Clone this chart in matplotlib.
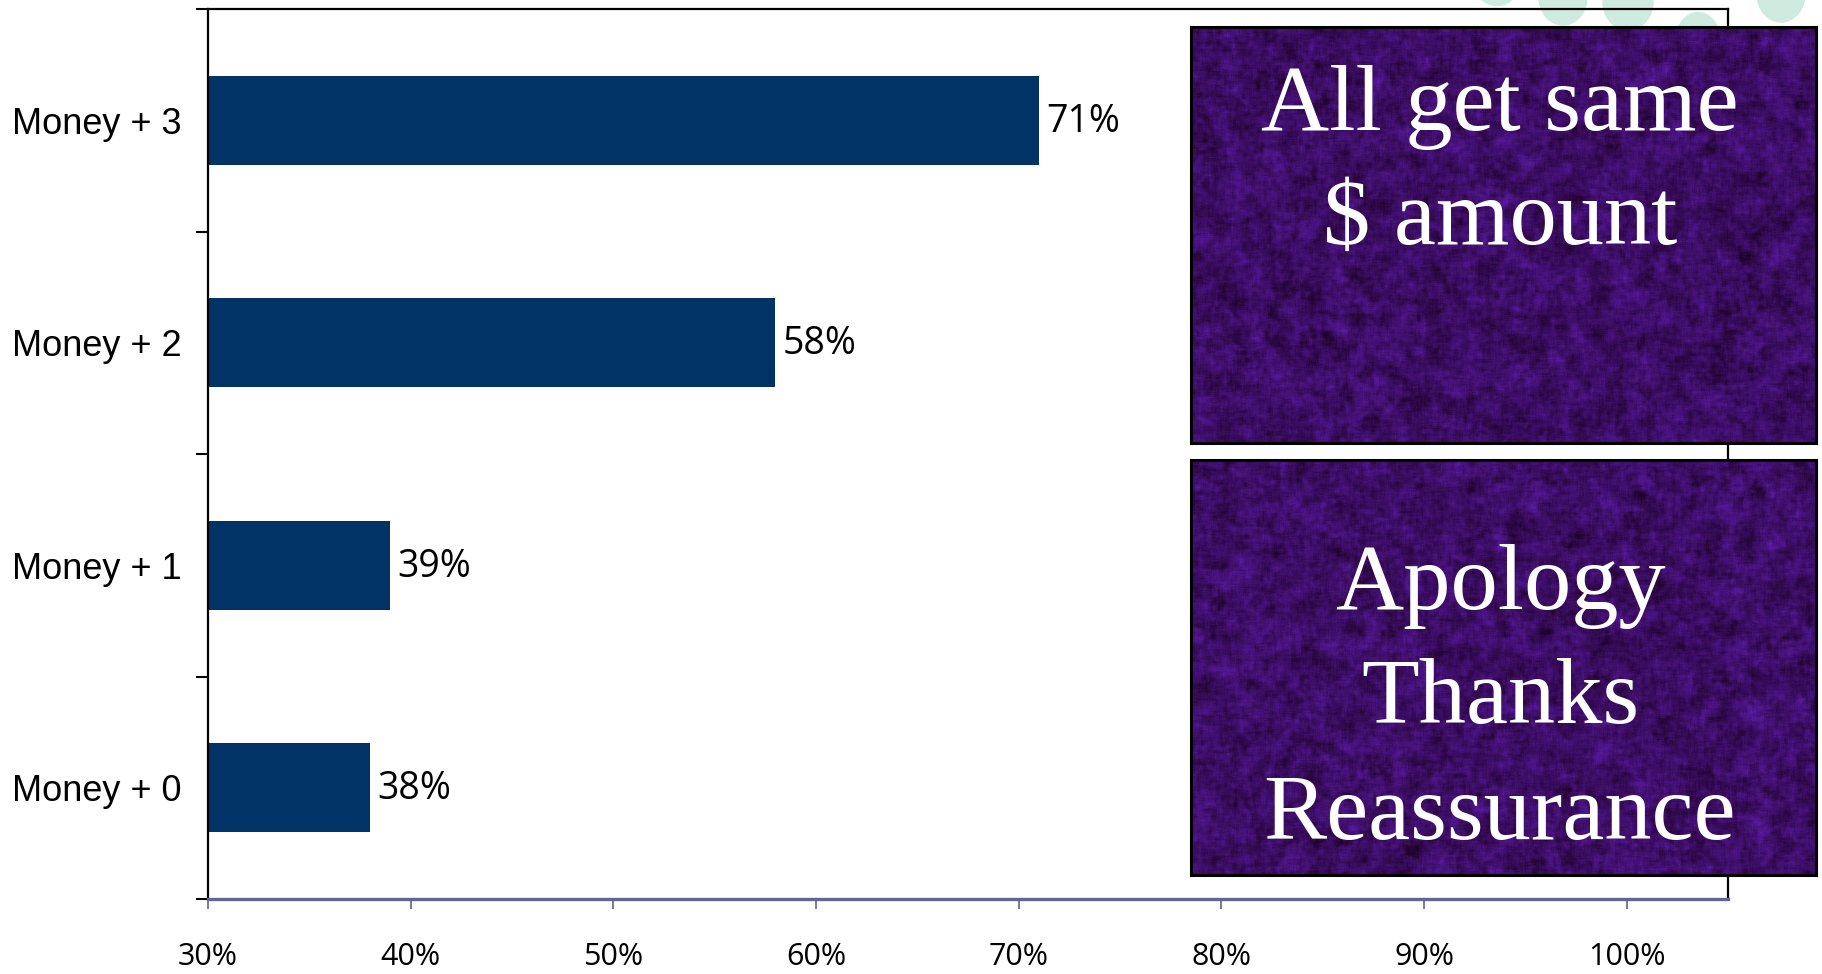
import numpy as np
import matplotlib
matplotlib.use("Agg")
import matplotlib.pyplot as plt
from matplotlib.patches import Ellipse

# --- data -------------------------------------------------------------
categories = ["Money + 0", "Money + 1", "Money + 2", "Money + 3"]
shares = [38, 39, 58, 71]
x_ticks = [30, 40, 50, 60, 70, 80, 90, 100]
x_tick_labels = [f"{t}%" for t in x_ticks]
box_top_lines = ["All get same", "$ amount"]
box_bottom_lines = ["Apology", "Thanks", "Reassurance"]

W, H = 1822, 974
fig = plt.figure(figsize=(W / 100, H / 100), dpi=100)
fig.patch.set_facecolor("white")


def px_rect(x0, y0, x1, y1):
    """Figure-fraction rect from pixel edges measured from the top-left."""
    return [x0 / W, 1 - y1 / H, (x1 - x0) / W, (y1 - y0) / H]


# decorative mint dots peeking in at the top right
for cx, cy, w, h in [(1497, -22, 48, 55), (1563, -3, 48, 56), (1628, 2, 50, 56),
                     (1698, 40, 44, 55), (1781, -6, 48, 56)]:
    fig.patches.append(Ellipse((cx / W, 1 - cy / H), w / W, h / H,
                               transform=fig.transFigure, color="#cfeadf",
                               zorder=-5))

# --- bar chart --------------------------------------------------------
ax = fig.add_axes(px_rect(208, 9, 1728, 899))
ax.set_facecolor("none")
ypos = np.arange(len(categories))
ax.barh(ypos, shares, height=0.4, color="#023366", zorder=2)

for y, v in zip(ypos, shares):
    ax.annotate(f"{v}%", (v, y), xytext=(5, -1), textcoords="offset points",
                va="center", ha="left", fontsize=27, family="Open Sans",
                color="black")

ax.set_xlim(30, 105)
ax.set_ylim(-0.5, len(categories) - 0.5)
ax.set_xticks(x_ticks)
ax.set_xticklabels(x_tick_labels, family="Open Sans", fontsize=22)
ax.set_yticks(ypos)
ax.set_yticklabels(categories, family="Liberation Sans", fontsize=26)
ax.set_yticks(np.arange(-0.5, len(categories)), minor=True)

ax.tick_params(axis="y", which="major", length=0, pad=19)
ax.tick_params(axis="y", which="minor", length=8.6, width=1.5, color="black",
               direction="out")
ax.tick_params(axis="x", which="major", length=7, width=1.3, color="#6a6e9c",
               direction="out", pad=24)

for side in ("left", "top", "right"):
    ax.spines[side].set_color("black")
    ax.spines[side].set_linewidth(1.6)
ax.spines["bottom"].set_color("#62658f")
ax.spines["bottom"].set_linewidth(2.4)

# --- textured text panels ----------------------------------------------
rng = np.random.default_rng(11)


def blur(a, n):
    k = np.ones(n) / n
    a = np.apply_along_axis(lambda r: np.convolve(r, k, mode="same"), 1, a)
    return np.apply_along_axis(lambda c: np.convolve(c, k, mode="same"), 0, a)


def felt_texture(rows, cols):
    pad = 20
    big = blur(rng.normal(size=(rows + 2 * pad, cols + 2 * pad)), 15)
    mid = blur(rng.normal(size=(rows + 2 * pad, cols + 2 * pad)), 5)
    big = big[pad:-pad, pad:-pad] / big.std()
    mid = mid[pad:-pad, pad:-pad] / mid.std()
    fine = rng.normal(size=(rows, cols))
    base = np.array([60, 14, 100], float) / 255
    tint = np.array([9, 4, 19], float) / 255
    img = base[None, None, :] + big[..., None] * tint * 0.7 \
        + mid[..., None] * tint * 0.5 + fine[..., None] * tint * 0.2
    return np.clip(img, 0, 1)


def text_panel(rect, lines, baselines):
    x0, y0, x1, y1 = rect
    pax = fig.add_axes(px_rect(x0, y0, x1, y1))
    pax.imshow(felt_texture(int(y1 - y0), int(x1 - x0)), aspect="auto",
               interpolation="bilinear")
    pax.set_xticks([])
    pax.set_yticks([])
    for s in pax.spines.values():
        s.set_color("black")
        s.set_linewidth(2.2)
    for line, yb in zip(lines, baselines):
        fig.text(1500 / W, 1 - yb / H, line, ha="center", va="baseline",
                 family="Liberation Serif", fontsize=68, color="white",
                 zorder=10)


text_panel((1191, 27, 1816, 443), box_top_lines, [130, 244])
text_panel((1191, 460, 1816, 875), box_bottom_lines, [609, 723, 839])

fig.savefig("out.png", dpi=100, facecolor="white")
